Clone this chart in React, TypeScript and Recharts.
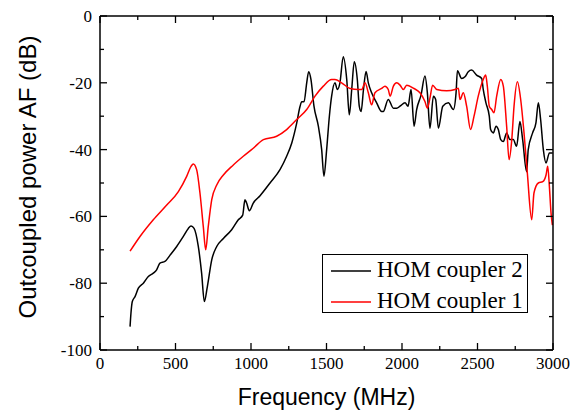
import { LineChart, Line, XAxis, YAxis, Legend, Label } from 'recharts';

// frequency (MHz) / outcoupled power (dB)
const coupler2Freq = [
  199, 205, 214, 232, 254, 287, 320, 353, 375, 397, 430, 464, 508, 552, 585, 603, 623, 651, 673, 691,
  711, 740, 773, 817, 872, 916, 945, 960, 971, 989, 1015, 1060, 1126, 1192, 1236, 1270, 1303, 1325, 1336, 1351,
  1369, 1382, 1397, 1417, 1446, 1468, 1483, 1501, 1519, 1534, 1556, 1572, 1589, 1611, 1634, 1651, 1667, 1684, 1704, 1717,
  1729, 1745, 1762, 1777, 1799, 1832, 1865, 1876, 1909, 1943, 1965, 1987, 2020, 2040, 2060, 2080, 2097, 2126, 2152, 2168,
  2185, 2208, 2223, 2241, 2270, 2307, 2340, 2358, 2367, 2395, 2417, 2439, 2461, 2494, 2528, 2538, 2556, 2578, 2587, 2605,
  2623, 2638, 2654, 2671, 2693, 2715, 2737, 2759, 2781, 2799, 2825, 2836, 2865, 2887, 2903, 2918, 2936, 2954, 2976, 2998,
];
const coupler2Db = [
  -93, -89, -85.5, -84, -81.5, -80, -78, -77, -76, -74, -73.5, -71.6, -69, -66, -63.6, -62.9, -63.6, -69, -77, -85.5,
  -81, -73, -69, -66.6, -64, -61, -59.6, -55, -56, -58.3, -56, -53.8, -50, -46, -42, -38, -32, -27, -25.7, -25.7,
  -20, -16.7, -19, -27, -33, -40, -48, -40, -30, -24, -20, -22, -20, -12.2, -19, -29.6, -22, -13.7, -19, -27,
  -28.6, -22, -16.6, -20, -23, -26, -28.6, -28.6, -25, -27.6, -27.6, -27, -26, -27, -22, -33, -28, -23.7, -18, -23,
  -33.6, -24, -25, -33.6, -27, -26, -28, -23, -16.4, -18.7, -18.2, -16.7, -16.2, -17.7, -18.7, -22, -26, -30, -34, -35,
  -33, -34, -37, -37.6, -35, -37, -37, -39, -31.6, -37, -46.6, -40, -35, -32, -26, -31, -40, -44, -41, -41,
];

const coupler1Freq = [
  199, 265, 353, 442, 519, 574, 603, 618, 640, 662, 684, 700, 717, 740, 773, 817, 883, 949, 1015, 1082,
  1170, 1236, 1303, 1369, 1424, 1479, 1534, 1556, 1600, 1656, 1711, 1733, 1755, 1777, 1799, 1821, 1865, 1887, 1909, 1921,
  1943, 1965, 1987, 2009, 2031, 2075, 2119, 2152, 2168, 2185, 2203, 2230, 2296, 2351, 2373, 2384, 2406, 2428, 2454, 2477,
  2505, 2538, 2554, 2565, 2578, 2594, 2609, 2627, 2654, 2671, 2693, 2709, 2727, 2742, 2764, 2786, 2808, 2830, 2859, 2874,
  2903, 2932, 2954, 2965, 2976, 2987, 2996,
];
const coupler1Db = [
  -70.4, -66, -61, -56.6, -52.6, -48, -45, -44.3, -46, -53, -63, -70, -63, -55, -50.6, -47.6, -44.6, -42, -39.6, -37,
  -36, -34, -31, -28, -24, -21, -19, -19, -20, -21.7, -22, -22, -20, -23, -26.6, -23, -21.7, -21, -22, -24,
  -21, -20, -20.7, -22, -20.7, -21.6, -23, -25.6, -27.6, -24.6, -20.7, -22, -22.4, -22, -21.6, -25, -23, -27, -34, -30,
  -24, -19, -17.7, -21, -27, -28, -29, -24, -19, -21, -33, -43, -37, -27, -19.7, -25, -35, -47, -61, -53,
  -50, -49.6, -47.6, -45, -51, -59, -62.6,
];

const xTicks = [0, 250, 500, 750, 1000, 1250, 1500, 1750, 2000, 2250, 2500, 2750, 3000];
const yTicks = [-100, -90, -80, -70, -60, -50, -40, -30, -20, -10, 0];

const coupler2Data = coupler2Freq.map((f, i) => ({ f, v: coupler2Db[i] }));
const coupler1Data = coupler1Freq.map((f, i) => ({ f, v: coupler1Db[i] }));

const series = [
  { name: 'HOM coupler 2', color: '#000000' },
  { name: 'HOM coupler 1', color: '#ff0000' },
];

const SERIF = '"Liberation Serif", "Times New Roman", serif';
const SANS = '"Liberation Sans", Arial, sans-serif';

const BottomTick = ({ x, y, payload }: any) => {
  const major = payload.value % 500 === 0;
  return (
    <g>
      <line x1={x} y1={y} x2={x} y2={y - (major ? 7 : 4)} stroke="#000" strokeWidth={1.3} />
      {major && (
        <text x={x} y={y + 19} textAnchor="middle" fontSize={17} fontFamily={SERIF} fill="#000">
          {payload.value}
        </text>
      )}
    </g>
  );
};

const TopTick = ({ x, y, payload }: any) => {
  const major = payload.value % 500 === 0;
  return <line x1={x} y1={y} x2={x} y2={y + (major ? 7 : 4)} stroke="#000" strokeWidth={1.3} />;
};

const LeftTick = ({ x, y, payload }: any) => {
  const major = payload.value % 20 === 0;
  return (
    <g>
      <line x1={x} y1={y} x2={x + (major ? 7 : 4)} y2={y} stroke="#000" strokeWidth={1.3} />
      {major && (
        <text x={x - 8} y={y + 6} textAnchor="end" fontSize={17} fontFamily={SERIF} fill="#000">
          {payload.value}
        </text>
      )}
    </g>
  );
};

const RightTick = ({ x, y, payload }: any) => {
  const major = payload.value % 20 === 0;
  return <line x1={x} y1={y} x2={x - (major ? 7 : 4)} y2={y} stroke="#000" strokeWidth={1.3} />;
};

const LegendBox = () => (
  <div
    style={{
      border: '1.3px solid #000',
      background: '#fff',
      width: 206,
      height: 59,
      paddingTop: 1,
      boxSizing: 'border-box',
      fontFamily: SERIF,
      fontSize: 23,
      color: '#000',
    }}
  >
    {series.map((s) => (
      <div key={s.name} style={{ display: 'flex', alignItems: 'center', height: 31 }}>
        <svg width={48} height={31} style={{ display: 'block' }}>
          <line x1={8} x2={48} y1={15} y2={15} stroke={s.color} strokeWidth={1.5} />
        </svg>
        <span
          style={{ marginLeft: 6, whiteSpace: 'nowrap', lineHeight: '31px', position: 'relative', top: -2 }}
        >
          {s.name}
        </span>
      </div>
    ))}
  </div>
);

export default function App() {
  return (
    <div style={{ position: 'absolute', left: 0, top: 0, width: 579, height: 412, background: '#fff' }}>
      <LineChart width={579} height={412} margin={{ top: 0, right: 0, bottom: 0, left: 0 }}>
        <XAxis
          dataKey="f"
          type="number"
          domain={[0, 3000]}
          ticks={xTicks}
          interval={0}
          height={62}
          tickSize={0}
          tickMargin={0}
          tickLine={false}
          axisLine={{ stroke: '#000', strokeWidth: 1.5 }}
          tick={<BottomTick />}
          allowDataOverflow
        >
          <Label
            content={({ viewBox }: any) => (
              <text
                x={viewBox.x + viewBox.width / 2}
                y={viewBox.y + 55}
                textAnchor="middle"
                fontSize={23}
                fontFamily={SANS}
                fill="#000"
              >
                Frequency (MHz)
              </text>
            )}
          />
        </XAxis>
        <XAxis
          xAxisId="top"
          orientation="top"
          dataKey="f"
          type="number"
          domain={[0, 3000]}
          ticks={xTicks}
          interval={0}
          height={16}
          tickSize={0}
          tickMargin={0}
          tickLine={false}
          axisLine={{ stroke: '#000', strokeWidth: 1.5 }}
          tick={<TopTick />}
          allowDataOverflow
        />
        <YAxis
          type="number"
          domain={[-100, 0]}
          ticks={yTicks}
          interval={0}
          width={100}
          tickSize={0}
          tickMargin={0}
          tickLine={false}
          axisLine={{ stroke: '#000', strokeWidth: 1.5 }}
          tick={<LeftTick />}
          allowDataOverflow
        >
          <Label
            content={({ viewBox }: any) => {
              const cx = 27;
              const cy = viewBox.y + viewBox.height / 2 - 6;
              return (
                <text
                  x={cx}
                  y={cy}
                  transform={`rotate(-90 ${cx} ${cy})`}
                  textAnchor="middle"
                  dominantBaseline="central"
                  fontSize={24}
                  fontFamily={SANS}
                  fill="#000"
                >
                  Outcoupled power AF (dB)
                </text>
              );
            }}
          />
        </YAxis>
        <YAxis
          yAxisId="right"
          orientation="right"
          type="number"
          domain={[-100, 0]}
          ticks={yTicks}
          interval={0}
          width={26}
          tickSize={0}
          tickMargin={0}
          tickLine={false}
          axisLine={{ stroke: '#000', strokeWidth: 1.5 }}
          tick={<RightTick />}
          allowDataOverflow
        />
        <Legend
          layout="vertical"
          align="center"
          verticalAlign="middle"
          content={<LegendBox />}
          wrapperStyle={{ left: 322, top: 254, width: 206, height: 59 }}
        />
        <Line
          data={coupler2Data}
          dataKey="v"
          name="HOM coupler 2"
          type="monotone"
          stroke="#000000"
          strokeWidth={1.5}
          dot={false}
          activeDot={false}
          isAnimationActive={false}
        />
        <Line
          data={coupler1Data}
          dataKey="v"
          name="HOM coupler 1"
          type="monotone"
          stroke="#ff0000"
          strokeWidth={1.5}
          dot={false}
          activeDot={false}
          isAnimationActive={false}
        />
      </LineChart>
    </div>
  );
}
